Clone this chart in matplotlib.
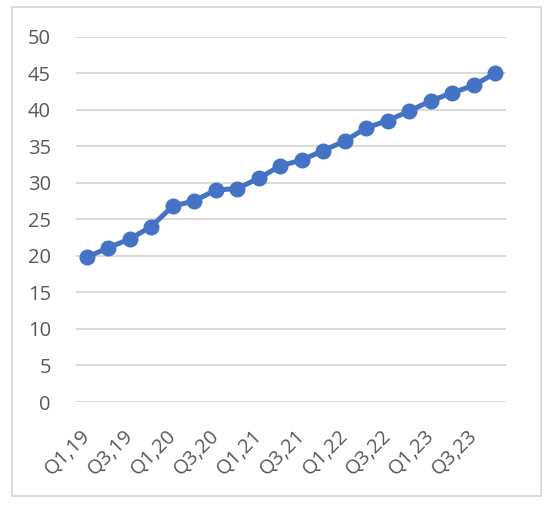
import matplotlib
matplotlib.use("Agg")
import matplotlib.pyplot as plt
from matplotlib.patches import Rectangle
from matplotlib.transforms import ScaledTranslation

quarters = ["Q1,19", "Q2,19", "Q3,19", "Q4,19",
            "Q1,20", "Q2,20", "Q3,20", "Q4,20",
            "Q1,21", "Q2,21", "Q3,21", "Q4,21",
            "Q1,22", "Q2,22", "Q3,22", "Q4,22",
            "Q1,23", "Q2,23", "Q3,23", "Q4,23"]
values = [19.8, 21.1, 22.3, 24.0, 26.8, 27.5, 29.0, 29.2, 30.6, 32.3,
          33.1, 34.4, 35.7, 37.5, 38.5, 39.8, 41.2, 42.3, 43.3, 45.0]
y_ticks = [0, 5, 10, 15, 20, 25, 30, 35, 40, 45, 50]

plt.rcParams['font.family'] = ['Open Sans', 'DejaVu Sans']

W, H = 550, 507
fig = plt.figure(figsize=(W / 100, H / 100), dpi=100)
ax = fig.add_axes([76 / W, 1 - 402 / H, (506 - 76) / W, (402 - 36.5) / H])

x = list(range(len(quarters)))
ax.plot(x, values, color='#4472C4', linewidth=3.6, marker='o',
        markersize=10.5, markerfacecolor='#4472C4', markeredgecolor='#4472C4',
        zorder=3, clip_on=False)

ax.set_xlim(-0.5, len(quarters) - 0.5)
ax.set_ylim(0, 50)
ax.set_yticks(y_ticks)
ax.set_xticks(x[::2])
ax.set_xticklabels(quarters[::2], rotation=45, ha='right', va='top',
                   rotation_mode='anchor')
ax.grid(axis='y', color='#D9D9D9', linewidth=1.4)
ax.set_axisbelow(True)
for s in ax.spines.values():
    s.set_visible(False)
ax.tick_params(axis='both', length=0, labelsize=14.5, colors='#595959')
ax.tick_params(axis='y', pad=18)
ax.tick_params(axis='x', pad=16)
offset = ScaledTranslation(-6 / 100, -2 / 100, fig.dpi_scale_trans)
for lbl in ax.get_xticklabels():
    lbl.set_transform(lbl.get_transform() + offset)

fig.patches.append(Rectangle((12 / W, 1 - 496 / H), (541 - 12) / W, (496 - 7) / H,
                             transform=fig.transFigure, fill=False,
                             edgecolor='#D9D9D9', linewidth=1.3))

fig.savefig('out.png', dpi=100, facecolor='white')
